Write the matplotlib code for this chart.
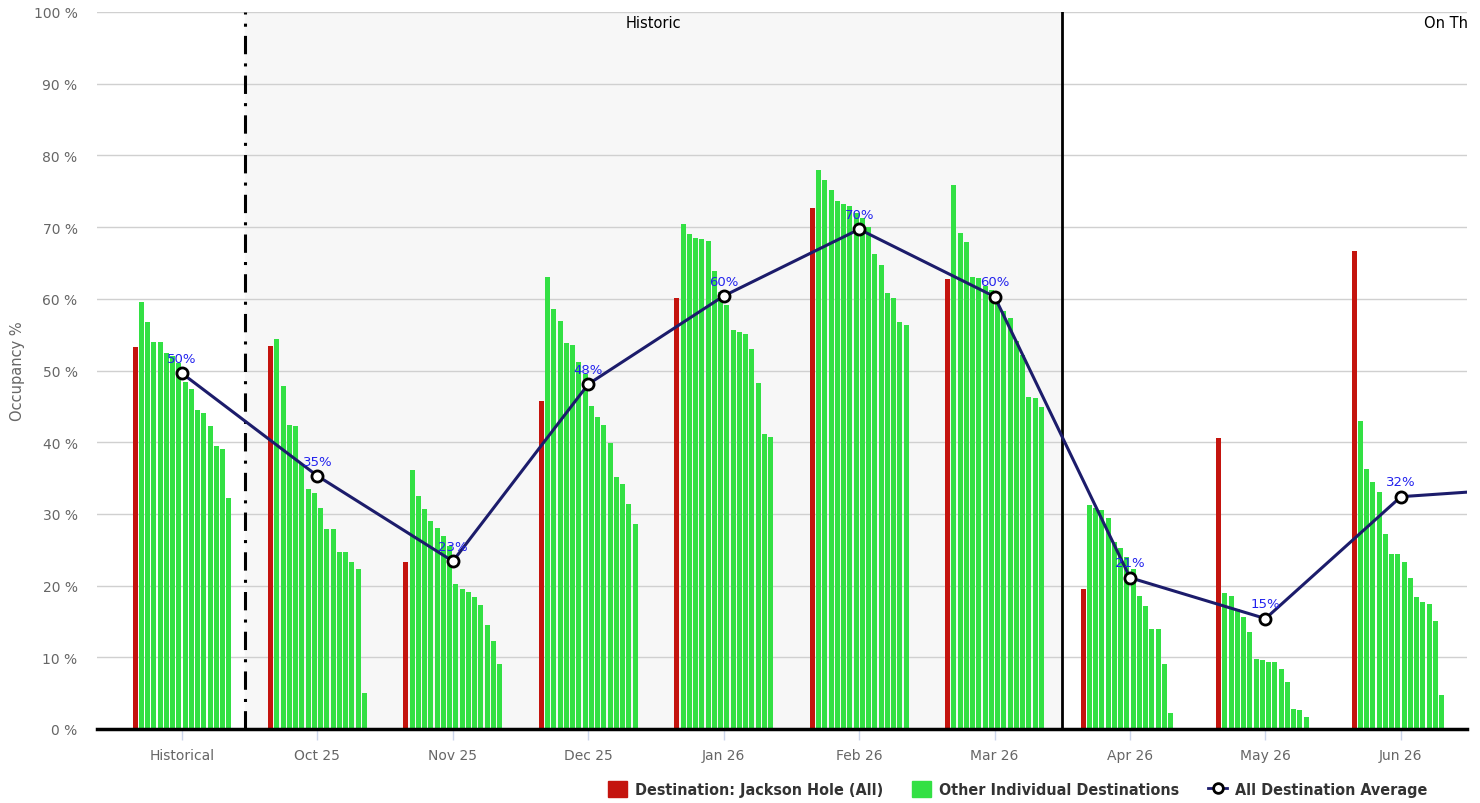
import numpy as np
import matplotlib
matplotlib.use('Agg')
import matplotlib.pyplot as plt
from matplotlib.patches import Patch
from matplotlib.lines import Line2D

# Data
categories = ['Historical', 'Oct 25', 'Nov 25', 'Dec 25', 'Jan 26', 'Feb 26',
              'Mar 26', 'Apr 26', 'May 26', 'Jun 26', 'Jul 26']

jackson_hole = [53.3, 53.4, 23.3, 45.7, 60.1, 72.6, 62.8, 19.5, 40.6, 66.6]

other_destinations = [
    [59.6, 56.8, 54.0, 54.0, 52.4, 52.0, 51.0, 48.4, 47.4, 44.5, 44.1, 42.3, 39.5, 39.1, 32.2],
    [54.4, 47.8, 42.4, 42.3, 37.0, 33.5, 32.9, 30.8, 27.9, 27.9, 24.7, 24.7, 23.3, 22.3, 5.0],
    [36.1, 32.5, 30.7, 29.0, 28.0, 26.9, 25.5, 20.2, 19.5, 19.1, 18.4, 17.3, 14.5, 12.3, 9.1],
    [63.0, 58.6, 56.9, 53.8, 53.6, 51.2, 49.5, 45.0, 43.5, 42.4, 39.9, 35.1, 34.2, 31.4, 28.6],
    [70.4, 69.1, 68.5, 68.4, 68.1, 63.9, 61.0, 59.1, 55.7, 55.3, 55.1, 53.0, 48.2, 41.2, 40.7],
    [78.0, 76.5, 75.2, 73.6, 73.2, 73.0, 72.0, 71.3, 70.0, 66.3, 64.7, 60.8, 60.1, 56.8, 56.3],
    [75.9, 69.2, 67.9, 63.1, 62.9, 61.8, 61.2, 60.0, 58.3, 57.3, 54.1, 52.1, 46.3, 46.1, 44.9],
    [31.2, 30.8, 30.5, 29.4, 26.1, 25.2, 24.0, 22.3, 18.5, 17.1, 14.0, 14.0, 9.0, 2.3, 0.0],
    [18.9, 18.5, 16.7, 15.6, 13.5, 9.8, 9.6, 9.4, 9.4, 8.4, 6.5, 2.8, 2.6, 1.7, 0.0],
    [43.0, 36.2, 34.5, 33.1, 27.2, 24.4, 24.4, 23.3, 21.1, 18.4, 17.7, 17.4, 15.0, 4.8, 0.0],
]

average = [49.6, 35.3, 23.4, 48.1, 60.4, 69.7, 60.3, 21.1, 15.4, 32.4, 33.7]

red = '#c4140e'
green = '#33e044'
navy = '#1c1c6b'

fig = plt.figure(figsize=(14.8, 8.04), dpi=100)
ax = fig.add_axes([97 / 1480, 74 / 804, 1370 / 1480, 717 / 804])

# Plot bands and dividers
ax.axvspan(0.465, 6.5, color='#f7f7f7', zorder=0)
ax.axvline(0.465, color='black', lw=2.2, linestyle=(0, (6, 3, 1, 3)), zorder=1)
ax.axvline(6.5, color='black', lw=2, zorder=1)
ax.text((0.465 + 6.5) / 2, 98.6, 'Historic', ha='center', va='center', fontsize=10.5, color='black')
ax.text(9.17, 98.6, 'On The Books', ha='left', va='center', fontsize=10.5, color='black', clip_on=True)

# Grouped bars: slot 0 is Jackson Hole, slots 1-15 the other destinations
slot = 0.04615
width = 0.037
x = np.arange(len(jackson_hole))
ax.bar(x - 7.5 * slot, jackson_hole, width=width, color=red, zorder=2)
other = np.array(other_destinations)
for j in range(other.shape[1]):
    ax.bar(x + (j + 1 - 7.5) * slot, other[:, j], width=width, color=green, zorder=2)

# Average line
xa = np.arange(len(average))
ax.plot(xa, average, color=navy, lw=2.2, marker='o', markersize=8,
        markerfacecolor='white', markeredgecolor='black', markeredgewidth=2, zorder=4)
for xi, v in zip(xa, average):
    ax.annotate(f'{v:.0f}%', (xi, v), xytext=(0, 6), textcoords='offset points',
                ha='center', va='bottom', fontsize=9.5, color='#2222ee', zorder=5,
                annotation_clip=True)

# Axes styling
ax.set_yticks(np.arange(0, 101, 10))
ax.set_yticklabels([f'{v} %' for v in range(0, 101, 10)])
ax.set_xticks(np.arange(len(categories)))
ax.set_xticklabels(categories)
ax.set_xlim(-0.6276, 9.488)
ax.set_ylim(0, 100)
ax.grid(axis='y', color='#d0d0d0', lw=1, zorder=0)
ax.set_axisbelow(True)
for s in ['top', 'right', 'left']:
    ax.spines[s].set_visible(False)
ax.spines['bottom'].set_linewidth(2.5)
ax.spines['bottom'].set_zorder(6)
ax.tick_params(axis='y', length=0, pad=14, labelsize=10, labelcolor='#666666')
ax.tick_params(axis='x', length=8, width=1, color='#ccd6eb', pad=6, labelsize=10, labelcolor='#666666')
ax.set_ylabel('Occupancy %', fontsize=10.5, color='#666666', labelpad=6)

# Legend
handles = [Patch(color=red), Patch(color=green),
           Line2D([], [], color=navy, lw=2, marker='o', markersize=7,
                  markerfacecolor='white', markeredgecolor='black', markeredgewidth=2)]
labels = ['Destination: Jackson Hole (All)', 'Other Individual Destinations', 'All Destination Average']
fig.legend(handles, labels, loc='lower right', bbox_to_anchor=(1442 / 1480, -0.011), ncol=3,
           frameon=False, handlelength=1.2, handleheight=1.2, handletextpad=0.5, columnspacing=1.8,
           prop={'weight': 'bold', 'size': 11.5, 'stretch': 'condensed'}, labelcolor='#333333')

fig.savefig('out.png', dpi=100)
